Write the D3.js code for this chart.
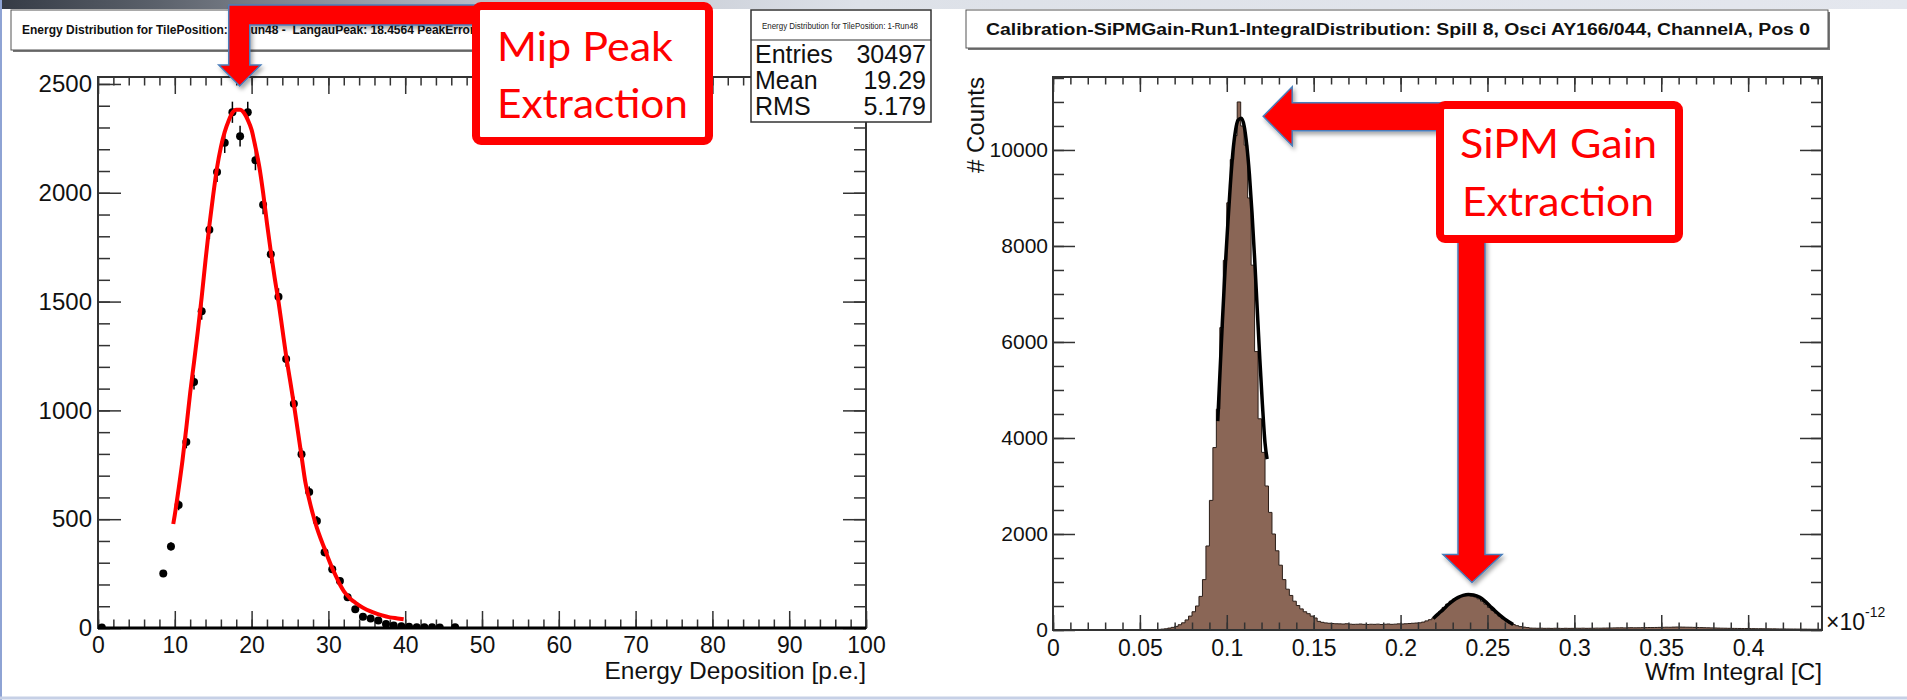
<!DOCTYPE html>
<html>
<head>
<meta charset="utf-8">
<title>Mip peak and SiPM gain extraction</title>
<script src="https://cdn.jsdelivr.net/npm/d3@7"></script>
<style>
    body { margin: 0; background: #fff; }
    svg { display: block; }
</style>
</head>
<body>
<svg id="chart" width="1907" height="700"></svg>
<script>
"use strict";

// ---- left panel: energy deposition (bin centres in p.e.) and Langau fit
var energyCenters = [0.5, 8.5, 9.5, 10.5, 11.5, 12.5, 13.5, 14.5, 15.5, 16.5, 17.5, 18.5, 19.5, 20.5,
    21.5, 22.5, 23.5, 24.5, 25.5, 26.5, 27.5, 28.5, 29.5, 30.5, 31.5, 32.5, 33.5, 34.5, 35.5, 36.5,
    37.5, 38.5, 39.5, 40.5, 41.5, 42.5, 43.5, 44.5, 46.5];
var energyCounts = [2, 250, 375, 565, 855, 1130, 1455, 1830, 2095, 2230, 2370, 2260, 2370, 2150,
    1945, 1718, 1522, 1236, 1030, 798, 625, 492, 348, 270, 216, 141, 86, 52, 44, 34,
    18, 12, 8, 6, 3, 4, 3, 2, 3];
var langauX = [9.8, 10.0, 10.5, 11.0, 11.5, 12.0, 12.5, 13.0, 13.5, 14.0, 14.5, 15.0, 15.5, 16.0,
    16.5, 17.0, 17.5, 18.0, 18.5, 19.0, 19.5, 20.0, 20.5, 21.0, 21.5, 22.0, 22.5, 23.0, 23.5, 24.0,
    24.5, 25.0, 25.5, 26.0, 26.5, 27.0, 27.5, 28.0, 28.5, 29.0, 29.5, 30.0, 30.5, 31.0, 31.5, 32.0,
    32.5, 33.0, 33.5, 34.0, 35.0, 36.0, 37.0, 38.0, 39.0, 39.8];
var langauY = [478, 520, 640, 770, 920, 1080, 1220, 1365, 1520, 1690, 1850, 1990, 2115, 2210,
    2280, 2330, 2368, 2382, 2382, 2368, 2335, 2289, 2210, 2120, 2000, 1860, 1730, 1610, 1500, 1375,
    1250, 1140, 1030, 910, 790, 670, 590, 520, 460, 410, 365, 318, 275, 237, 200, 170,
    148, 130, 117, 104, 84, 70, 58, 49, 44, 40];
var langauPeak = 18.4564;
var energyTicks = [0, 10, 20, 30, 40, 50, 60, 70, 80, 90, 100];
var energyCountTicks = [0, 500, 1000, 1500, 2000, 2500];
var statsLabels = ["Entries", "Mean", "RMS"];
var statsValues = ["30497", "19.29", "5.179"];

// ---- right panel: waveform integral histogram (units of 1e-12 C), bins of 0.002 from 0
var gainBinWidth = 0.002;
var gainCounts = [
    0, 0, 0, 0, 0, 0, 0, 0, 0, 0, 0, 0, 0, 0, 0, 0, 0, 0, 0, 0, 0, 0, 0, 0, 0, 0, 0, 0,
    5, 8, 12, 18,
    25, 40, 55, 75, 110, 150, 210, 290, 380, 500, 700, 1050, 1750, 2700, 3800, 4600,
    6300, 7700, 8900, 9800, 10300, 11000, 10500, 10100, 9000, 7600, 5800, 4400, 3700, 3000,
    2450, 2000, 1650, 1350, 1050, 850, 720, 600, 510, 440, 380, 340, 290, 250, 180, 160, 148, 140,
    135, 130, 128, 125, 130, 122, 118, 120, 125, 118, 115, 120, 118, 122, 115, 120, 125, 118,
    122, 128, 125, 130, 135, 140, 145, 150,
    165, 190, 215, 250, 310, 390, 470, 540, 600, 645, 680, 705, 715, 718, 710, 690, 650, 600,
    540, 470, 410, 350, 290, 235, 190, 145, 115, 90, 70, 60, 50,
    40, 38, 36, 38, 35, 36, 34, 37, 35, 33, 36, 34, 35, 37, 36, 38, 35, 36, 37, 39, 38, 40, 41, 42,
    44, 45, 46, 44, 47, 48, 46, 47, 49, 50, 52, 51, 53, 55, 56, 58, 57, 60, 62, 61, 60, 58, 57, 55,
    52, 50, 48, 46, 44, 42,
    40, 38, 37, 35, 34, 33, 32, 30, 30, 29, 28, 27, 27, 26, 25, 24, 24, 23, 22, 22, 21, 20, 20, 19,
    18, 18, 17, 16, 16, 15, 15];
var gaussMainX = [0.0948, 0.0960, 0.0975, 0.0990, 0.1005, 0.1020, 0.1035, 0.1050, 0.1065, 0.1083,
    0.1100, 0.1115, 0.1130, 0.1145, 0.1160, 0.1175, 0.1190, 0.1205, 0.1220, 0.1232];
var gaussMainY = [4350, 5300, 6450, 7500, 8400, 9250, 9950, 10400, 10620, 10660,
    10500, 10100, 9500, 8700, 7750, 6700, 5650, 4700, 3900, 3560];
var gaussSecondX = [0.2188, 0.2215, 0.2246, 0.2275, 0.2303, 0.2332, 0.2360, 0.2390, 0.2420, 0.2456,
    0.2485, 0.2514, 0.2543, 0.2571, 0.2600, 0.2629, 0.2648];
var gaussSecondY = [240, 330, 430, 530, 615, 680, 720, 738, 730, 680, 600, 500, 400, 310, 225, 155, 115];
var integralTicks = [0, 0.05, 0.1, 0.15, 0.2, 0.25, 0.3, 0.35, 0.4];
var gainCountTicks = [0, 2000, 4000, 6000, 8000, 10000];

var rootFont = "'Liberation Sans', Arial, Helvetica, sans-serif";
var noteFont = "Lato, 'Open Sans', sans-serif";

var svg = d3.select("#chart");
var defs = svg.append("defs");

defs.append("filter").attr("id", "shadow")
    .attr("x", "-20%").attr("y", "-20%").attr("width", "140%").attr("height", "140%")
    .append("feDropShadow")
    .attr("dx", 2).attr("dy", 3).attr("stdDeviation", 2)
    .attr("flood-color", "#000").attr("flood-opacity", 0.35);

var band = defs.append("linearGradient").attr("id", "band");
band.selectAll("stop")
    .data([[0, "#353b45"], [0.08, "#5a606a"], [0.25, "#b9bec8"], [0.45, "#dde1e8"], [1, "#e4e7ee"]])
    .enter()
    .append("stop")
    .attr("offset", function (d) { return d[0]; })
    .attr("stop-color", function (d) { return d[1]; });

// slide background bits
svg.append("rect").attr("width", 1907).attr("height", 700).attr("fill", "#fff");
svg.append("rect").attr("width", 1907).attr("height", 9).attr("fill", "url(#band)");
svg.append("line").attr("x1", 1).attr("x2", 1).attr("y1", 0).attr("y2", 700)
    .attr("stroke", "#8ea3d4").attr("stroke-width", 2);
svg.append("line").attr("x1", 0).attr("x2", 1907).attr("y1", 698).attr("y2", 698)
    .attr("stroke", "#c6d0e6").attr("stroke-width", 3);

function strip(sel) {
    sel.select(".domain").remove();
    sel.selectAll("line").attr("stroke", "#333").attr("stroke-width", 1.5);
}

// ROOT style frame: ticks on all four sides pointing inwards
function frameAxes(g, x, y, o) {
    var x0 = x.range()[0], x1 = x.range()[1], y0 = y.range()[0], y1 = y.range()[1];

    g.append("g").attr("transform", "translate(0," + y0 + ")")
        .call(d3.axisBottom(x).tickValues(o.xMinor).tickSize(-o.xLen[1]).tickFormat("")).call(strip);
    g.append("g").attr("transform", "translate(0," + y1 + ")")
        .call(d3.axisTop(x).tickValues(o.xMinor).tickSize(-o.xLen[1]).tickFormat("")).call(strip);
    g.append("g").attr("transform", "translate(0," + y1 + ")")
        .call(d3.axisTop(x).tickValues(o.xMajor).tickSize(-o.xLen[0]).tickFormat("")).call(strip);
    g.append("g").attr("transform", "translate(" + x0 + ",0)")
        .call(d3.axisLeft(y).tickValues(o.yMinor).tickSize(-o.yLen[1]).tickFormat("")).call(strip);
    g.append("g").attr("transform", "translate(" + x1 + ",0)")
        .call(d3.axisRight(y).tickValues(o.yMinor).tickSize(-o.yLen[1]).tickFormat("")).call(strip);
    g.append("g").attr("transform", "translate(" + x1 + ",0)")
        .call(d3.axisRight(y).tickValues(o.yMajor).tickSize(-o.yLen[0]).tickFormat("")).call(strip);

    g.append("g").attr("transform", "translate(0," + y0 + ")")
        .call(d3.axisBottom(x).tickValues(o.xMajor).tickSize(-o.xLen[0]).tickPadding(o.xPad)
            .tickFormat(function (d) { return String(d); }))
        .call(strip)
        .attr("font-family", rootFont).attr("font-size", o.xFont)
        .selectAll("text").attr("fill", "#111");
    g.append("g").attr("transform", "translate(" + x0 + ",0)")
        .call(d3.axisLeft(y).tickValues(o.yMajor).tickSize(-o.yLen[0]).tickPadding(o.yPad)
            .tickFormat(function (d) { return String(d); }))
        .call(strip)
        .attr("font-family", rootFont).attr("font-size", o.yFont)
        .selectAll("text").attr("fill", "#111");

    g.append("rect")
        .attr("x", x0).attr("y", y1)
        .attr("width", x1 - x0).attr("height", y0 - y1)
        .attr("fill", "none").attr("stroke", "#333").attr("stroke-width", 2);
}

function titleBox(x, y, w, h) {
    svg.append("rect").attr("x", x + 2).attr("y", y + 2).attr("width", w).attr("height", h)
        .attr("fill", "#777");
    svg.append("rect").attr("x", x).attr("y", y).attr("width", w).attr("height", h)
        .attr("fill", "#fff").attr("stroke", "#555").attr("stroke-width", 1);
}

// ================= left panel =================
var xE = d3.scaleLinear().domain([0, 100]).range([98, 866]);
var yE = d3.scaleLinear().domain([0, 2532]).range([628, 77]);

defs.append("clipPath").attr("id", "clipE").append("rect")
    .attr("x", 98).attr("y", 77).attr("width", 768).attr("height", 551);

titleBox(11, 10, 690, 40);
// title runs on under the callout box, which hides its end
svg.append("text")
    .attr("x", 22).attr("y", 30)
    .attr("dy", "0.35em")
    .style("white-space", "pre")
    .attr("font-family", rootFont).attr("font-weight", "bold").attr("font-size", 12)
    .attr("fill", "#111")
    .text("Energy Distribution for TilePosition: 1-Run48 -  LangauPeak: 18.4564 PeakError");

var left = svg.append("g");
frameAxes(left, xE, yE, {
    xMajor: energyTicks, xMinor: d3.range(0, 101, 2), xLen: [17, 8.5], xPad: 9, xFont: 23,
    yMajor: energyCountTicks, yMinor: d3.range(0, 2532, 100), yLen: [23, 12], yPad: 6, yFont: 24
});
left.append("line")
    .attr("x1", xE(0)).attr("x2", xE(100)).attr("y1", yE(0)).attr("y2", yE(0))
    .attr("stroke", "#000").attr("stroke-width", 3);

var energyPlot = left.append("g").attr("clip-path", "url(#clipE)");
energyPlot.selectAll("line.err")
    .data(energyCenters)
    .enter()
    .append("line")
    .attr("class", "err")
    .attr("x1", function (d) { return xE(d); })
    .attr("x2", function (d) { return xE(d); })
    .attr("y1", function (d, i) { return yE(energyCounts[i] - Math.sqrt(energyCounts[i])); })
    .attr("y2", function (d, i) { return yE(energyCounts[i] + Math.sqrt(energyCounts[i])); })
    .attr("stroke", "#000").attr("stroke-width", 1.5);
energyPlot.selectAll("circle")
    .data(energyCenters)
    .enter()
    .append("circle")
    .attr("cx", function (d) { return xE(d); })
    .attr("cy", function (d, i) { return yE(energyCounts[i]); })
    .attr("r", 4)
    .attr("fill", "#000");
energyPlot.append("path")
    .datum(langauX)
    .attr("d", d3.line()
        .curve(d3.curveMonotoneX)
        .x(function (d) { return xE(d); })
        .y(function (d, i) { return yE(langauY[i]); }))
    .attr("fill", "none").attr("stroke", "#ff0000").attr("stroke-width", 4);

left.append("text")
    .attr("x", 866).attr("y", 679)
    .attr("text-anchor", "end")
    .attr("font-family", rootFont).attr("font-size", 24.5).attr("fill", "#111")
    .text("Energy Deposition [p.e.]");

// stats box
var stats = svg.append("g");
stats.append("rect").attr("x", 751).attr("y", 10).attr("width", 180).attr("height", 112)
    .attr("fill", "#fff").attr("stroke", "#333").attr("stroke-width", 1.5);
stats.append("line").attr("x1", 751).attr("x2", 931).attr("y1", 40).attr("y2", 40)
    .attr("stroke", "#333").attr("stroke-width", 1.2);
stats.append("text")
    .attr("x", 840).attr("y", 29).attr("text-anchor", "middle")
    .attr("font-family", rootFont).attr("font-size", 8.5).attr("fill", "#222")
    .attr("textLength", 156).attr("lengthAdjust", "spacingAndGlyphs")
    .text("Energy Distribution for TilePosition: 1-Run48");
stats.selectAll("text.lab")
    .data(statsLabels)
    .enter()
    .append("text")
    .attr("class", "lab")
    .attr("x", 755)
    .attr("y", function (d, i) { return 63 + i * 26; })
    .attr("font-family", rootFont).attr("font-size", 25).attr("fill", "#111")
    .text(function (d) { return d; });
stats.selectAll("text.val")
    .data(statsValues)
    .enter()
    .append("text")
    .attr("class", "val")
    .attr("x", 926)
    .attr("y", function (d, i) { return 63 + i * 26; })
    .attr("text-anchor", "end")
    .attr("font-family", rootFont).attr("font-size", 25).attr("fill", "#111")
    .text(function (d) { return d; });

// ================= right panel =================
var xG = d3.scaleLinear().domain([0, 0.4425]).range([1053, 1822]);
var yG = d3.scaleLinear().domain([0, 11520]).range([630, 77]);

defs.append("clipPath").attr("id", "clipG").append("rect")
    .attr("x", 1053).attr("y", 77).attr("width", 769).attr("height", 553);

titleBox(966, 10, 862, 38);
svg.append("text")
    .attr("x", 1398).attr("y", 29)
    .attr("dy", "0.35em")
    .attr("text-anchor", "middle")
    .attr("font-family", rootFont).attr("font-weight", "bold").attr("font-size", 16)
    .attr("fill", "#111")
    .attr("textLength", 824).attr("lengthAdjust", "spacingAndGlyphs")
    .text("Calibration-SiPMGain-Run1-IntegralDistribution: Spill 8, Osci AY166/044, ChannelA, Pos 0");

var right = svg.append("g");

var steps = gainCounts.map(function (c, i) { return [i * gainBinWidth, c]; });
steps.push([gainCounts.length * gainBinWidth, gainCounts[gainCounts.length - 1]]);

var gainPlot = right.append("g").attr("clip-path", "url(#clipG)");
gainPlot.append("path")
    .datum(steps)
    .attr("d", d3.area()
        .curve(d3.curveStepAfter)
        .x(function (d) { return xG(d[0]); })
        .y0(yG(0))
        .y1(function (d) { return yG(d[1]); }))
    .attr("fill", "#8a6656");
gainPlot.append("path")
    .datum(steps)
    .attr("d", d3.line()
        .curve(d3.curveStepAfter)
        .x(function (d) { return xG(d[0]); })
        .y(function (d) { return yG(d[1]); }))
    .attr("fill", "none").attr("stroke", "#2a1d17").attr("stroke-width", 1);

frameAxes(right, xG, yG, {
    xMajor: integralTicks, xMinor: d3.range(0, 0.4425, 0.01), xLen: [15, 7.5], xPad: 10, xFont: 23,
    yMajor: gainCountTicks, yMinor: d3.range(0, 11520, 500), yLen: [22, 11], yPad: 5, yFont: 21
});

[[gaussMainX, gaussMainY], [gaussSecondX, gaussSecondY]].forEach(function (fit) {
    gainPlot.append("path")
        .datum(fit[0])
        .attr("d", d3.line()
            .curve(d3.curveMonotoneX)
            .x(function (d) { return xG(d); })
            .y(function (d, i) { return yG(fit[1][i]); }))
        .attr("fill", "none").attr("stroke", "#000").attr("stroke-width", 3.5);
});

right.append("text")
    .attr("x", 1822).attr("y", 680)
    .attr("text-anchor", "end")
    .attr("font-family", rootFont).attr("font-size", 24.5).attr("fill", "#111")
    .text("Wfm Integral [C]");
right.append("text")
    .attr("transform", "translate(984,77) rotate(-90)")
    .attr("text-anchor", "end")
    .attr("font-family", rootFont).attr("font-size", 24).attr("fill", "#111")
    .text("# Counts");
var expo = right.append("text")
    .attr("x", 1826).attr("y", 630)
    .attr("font-family", rootFont).attr("font-size", 23).attr("fill", "#111");
expo.append("tspan").text("\u00d710");
expo.append("tspan").attr("dy", -13).attr("font-size", 14).text("-12");

// ================= callouts =================
function arrow(points) {
    svg.append("path")
        .attr("d", d3.line()(points) + "Z")
        .attr("fill", "#ff0000")
        .attr("stroke", "#4a7ebb").attr("stroke-width", 1.5)
        .attr("filter", "url(#shadow)");
}

function callout(x, y, w, h, lines) {
    svg.append("rect")
        .attr("x", x).attr("y", y).attr("width", w).attr("height", h)
        .attr("rx", 5)
        .attr("fill", "#fff").attr("stroke", "#ff0000").attr("stroke-width", 8);
    svg.selectAll(null)
        .data(lines)
        .enter()
        .append("text")
        .attr("x", function (d) { return d[0]; })
        .attr("y", function (d) { return d[1]; })
        .attr("textLength", function (d) { return d[2]; })
        .attr("lengthAdjust", "spacingAndGlyphs")
        .attr("font-family", noteFont).attr("font-size", 41).attr("fill", "#ff0000")
        .text(function (d) { return d[3]; });
}

// mip peak: bent arrow down onto the Langau peak
var mt = [xE(langauPeak), 86];
arrow([[480, 5], [mt[0] - 11, 5], [mt[0] - 11, mt[1] - 21], [mt[0] - 21, mt[1] - 21], mt,
    [mt[0] + 21, mt[1] - 21], [mt[0] + 10, mt[1] - 21], [mt[0] + 10, 25], [480, 25]]);
callout(476, 6, 233, 135, [[497, 61, 176, "Mip Peak"], [497, 118, 191, "Extraction"]]);

// SiPM gain: arrow left to the first photo-electron peak, arrow down to the second
var lt = [xG(gaussMainX[9]) + 22, yG(gaussMainY[9]) - 2];
arrow([[1445, lt[1] - 13.5], [lt[0] + 29, lt[1] - 13.5], [lt[0] + 29, lt[1] - 29.5], lt,
    [lt[0] + 29, lt[1] + 29.5], [lt[0] + 29, lt[1] + 14.5], [1445, lt[1] + 14.5]]);
var dt = [xG(0.2411), yG(gaussSecondY[7]) - 12];
arrow([[dt[0] - 14, 238], [dt[0] - 14, dt[1] - 28], [dt[0] - 29, dt[1] - 28], dt,
    [dt[0] + 30, dt[1] - 28], [dt[0] + 13, dt[1] - 28], [dt[0] + 13, 238]]);
callout(1440, 105, 239, 134, [[1460, 158, 197, "SiPM Gain"], [1462, 216, 192, "Extraction"]]);
</script>
</body>
</html>
